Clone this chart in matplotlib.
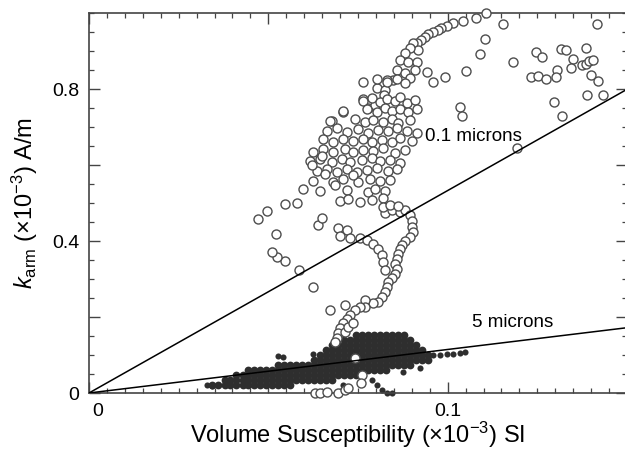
import matplotlib
matplotlib.use('Agg')
import matplotlib.pyplot as plt
import matplotlib.transforms as mtransforms
from matplotlib.ticker import MultipleLocator, FixedLocator, FixedFormatter

plt.rcParams['font.family'] = 'Liberation Sans'
plt.rcParams['mathtext.fontset'] = 'custom'
plt.rcParams['mathtext.rm'] = 'Liberation Sans'
plt.rcParams['mathtext.it'] = 'Liberation Sans:italic'

# reference lines (0.1 and 5 micron grain size), through the origin
line_x = [0.0, 0.15]
line_01_y = [0.0, 0.80]
line_5_y = [0.0, 0.172]

# open circles: upper arm going to the top of the plot
arm_x = [0.1108, 0.1078, 0.1042, 0.1014, 0.0997, 0.0981, 0.0972, 0.0958, 0.0944, 0.0936,
         0.0925, 0.0914, 0.0903, 0.0917, 0.0894, 0.0881, 0.0867, 0.0889, 0.0914, 0.0858,
         0.0881, 0.0908, 0.0942, 0.0894, 0.0847, 0.0958, 0.0992, 0.1050, 0.1089, 0.1103,
         0.0831, 0.0803, 0.0825, 0.0764, 0.0708, 0.0678, 0.1153, 0.0778, 0.0797, 0.0822]
arm_y = [1.000, 0.989, 0.979, 0.974, 0.966, 0.961, 0.955, 0.950, 0.945, 0.937,
         0.929, 0.921, 0.921, 0.903, 0.908, 0.895, 0.876, 0.871, 0.871, 0.850,
         0.842, 0.850, 0.845, 0.829, 0.824, 0.818, 0.832, 0.847, 0.892, 0.932,
         0.824, 0.803, 0.797, 0.774, 0.739, 0.716, 0.971, 0.750, 0.758, 0.784]

# open circles: scattered points on the right
right_x = [0.1181, 0.1417, 0.1247, 0.1264, 0.1317, 0.1331, 0.1386, 0.1350, 0.1306, 0.1303,
           0.1344, 0.1375, 0.1386, 0.1394, 0.1406, 0.1400, 0.1419, 0.1233, 0.1253, 0.1275,
           0.1389, 0.1433, 0.1297, 0.1319, 0.1194, 0.1033, 0.1039]
right_y = [0.871, 0.971, 0.897, 0.884, 0.905, 0.903, 0.908, 0.879, 0.850, 0.832,
           0.855, 0.863, 0.868, 0.874, 0.876, 0.837, 0.821, 0.832, 0.834, 0.826,
           0.784, 0.784, 0.766, 0.729, 0.645, 0.753, 0.729]

# open circles: main cluster
blob_x = [0.0764, 0.0803, 0.0831, 0.0858, 0.0881,
          0.0764, 0.0789, 0.0811, 0.0831, 0.0853, 0.0867, 0.0886, 0.0908,
          0.0708, 0.0775, 0.0803, 0.0825, 0.0844, 0.0867, 0.0889, 0.0914,
          0.0672, 0.0742, 0.0769, 0.0792, 0.0819, 0.0844, 0.0861, 0.0894,
          0.0664, 0.0692, 0.0719, 0.0750, 0.0778, 0.0806, 0.0833, 0.0858, 0.0886, 0.0914,
          0.0653, 0.0681, 0.0708, 0.0736, 0.0764, 0.0789, 0.0817, 0.0844, 0.0867, 0.0900,
          0.0625, 0.0653, 0.0681, 0.0714, 0.0736, 0.0764, 0.0792, 0.0819, 0.0853, 0.0881,
          0.0617, 0.0644, 0.0678, 0.0706, 0.0728, 0.0761, 0.0789, 0.0811, 0.0839, 0.0867,
          0.0636, 0.0664, 0.0692, 0.0719, 0.0747, 0.0775, 0.0803, 0.0833, 0.0858,
          0.0625, 0.0681, 0.0708, 0.0750, 0.0783, 0.0811, 0.0839,
          0.0597, 0.0644, 0.0719, 0.0778, 0.0797, 0.0825,
          0.0700, 0.0722, 0.0756, 0.0789, 0.0819,
          0.0622, 0.0658, 0.0686, 0.0736, 0.0650]
blob_y = [0.820, 0.828, 0.818, 0.826, 0.816,
          0.768, 0.776, 0.766, 0.774, 0.770, 0.779, 0.765, 0.772,
          0.742, 0.748, 0.740, 0.750, 0.743, 0.747, 0.739, 0.748,
          0.716, 0.722, 0.713, 0.720, 0.715, 0.723, 0.712, 0.719,
          0.690, 0.697, 0.688, 0.695, 0.686, 0.694, 0.689, 0.698, 0.691, 0.686,
          0.668, 0.661, 0.670, 0.663, 0.669, 0.660, 0.667, 0.662, 0.671, 0.664,
          0.636, 0.643, 0.635, 0.642, 0.634, 0.641, 0.637, 0.645, 0.633, 0.640,
          0.611, 0.617, 0.609, 0.616, 0.608, 0.614, 0.619, 0.610, 0.615, 0.607,
          0.585, 0.591, 0.583, 0.590, 0.582, 0.588, 0.593, 0.584, 0.589,
          0.559, 0.556, 0.563, 0.557, 0.565, 0.558, 0.562,
          0.537, 0.531, 0.536, 0.530, 0.538, 0.533,
          0.506, 0.511, 0.503, 0.509, 0.513,
          0.600, 0.577, 0.548, 0.575, 0.625]

# open circles: tail running down into the filled cluster
tail_x = [0.0825, 0.0844, 0.0867, 0.0881, 0.0894, 0.0900, 0.0900, 0.0903, 0.0894, 0.0881,
          0.0872, 0.0867, 0.0861, 0.0858, 0.0853, 0.0858, 0.0853, 0.0844, 0.0833, 0.0831,
          0.0825, 0.0817, 0.0806, 0.0819, 0.0839, 0.0861, 0.0639, 0.0650, 0.0694, 0.0719,
          0.0700, 0.0728, 0.0756, 0.0775, 0.0792, 0.0806, 0.0817, 0.0819, 0.0825, 0.0792,
          0.0769, 0.0769, 0.0756, 0.0742, 0.0728, 0.0719, 0.0708, 0.0700, 0.0694, 0.0692,
          0.0686, 0.0714, 0.0722, 0.0736, 0.0714, 0.0672, 0.0742, 0.0761, 0.0758]
tail_y = [0.474, 0.482, 0.476, 0.482, 0.468, 0.453, 0.437, 0.424, 0.411, 0.400,
          0.389, 0.379, 0.366, 0.353, 0.339, 0.326, 0.313, 0.303, 0.292, 0.279,
          0.266, 0.253, 0.239, 0.489, 0.495, 0.492, 0.442, 0.461, 0.434, 0.429,
          0.413, 0.408, 0.408, 0.403, 0.392, 0.379, 0.363, 0.345, 0.324, 0.237,
          0.245, 0.226, 0.226, 0.218, 0.205, 0.195, 0.184, 0.171, 0.158, 0.145,
          0.134, 0.161, 0.174, 0.184, 0.232, 0.218, 0.092, 0.047, 0.026]

# open circles: left strays and points on the x axis
left_x = [0.0625, 0.0586, 0.0547, 0.0525, 0.0511, 0.0522, 0.0472, 0.0497, 0.0547, 0.0581,
          0.0631, 0.0644, 0.0664, 0.0694, 0.0714, 0.0722]
left_y = [0.279, 0.324, 0.347, 0.358, 0.371, 0.418, 0.458, 0.479, 0.497, 0.500,
          0.000, 0.000, 0.003, 0.000, 0.008, 0.013]

# filled dots: dense cluster, one list of x per row
dense_y = [0.021, 0.034, 0.047, 0.061, 0.074, 0.087, 0.100, 0.113, 0.126, 0.139, 0.153]
dense_x = [
    [0.0344, 0.0361, 0.0378, 0.0394, 0.0411, 0.0428, 0.0444, 0.0461, 0.0478, 0.0494,
     0.0511, 0.0528, 0.0544, 0.0561],
    [0.0378, 0.0394, 0.0411, 0.0428, 0.0444, 0.0461, 0.0478, 0.0494, 0.0511, 0.0528,
     0.0544, 0.0561, 0.0578, 0.0594, 0.0611, 0.0628, 0.0644, 0.0661, 0.0678],
    [0.0411, 0.0428, 0.0444, 0.0461, 0.0478, 0.0494, 0.0511, 0.0528, 0.0544, 0.0561,
     0.0578, 0.0594, 0.0611, 0.0628, 0.0644, 0.0661, 0.0678, 0.0694, 0.0711, 0.0728,
     0.0744, 0.0761],
    [0.0444, 0.0461, 0.0478, 0.0494, 0.0511, 0.0528, 0.0544, 0.0561, 0.0578, 0.0594,
     0.0611, 0.0628, 0.0644, 0.0661, 0.0678, 0.0694, 0.0711, 0.0728, 0.0744, 0.0761,
     0.0778, 0.0794, 0.0811, 0.0828],
    [0.0528, 0.0544, 0.0561, 0.0578, 0.0594, 0.0611, 0.0628, 0.0644, 0.0661, 0.0678,
     0.0694, 0.0711, 0.0728, 0.0744, 0.0761, 0.0778, 0.0794, 0.0811, 0.0828, 0.0844,
     0.0861, 0.0878, 0.0894],
    [0.0628, 0.0644, 0.0661, 0.0678, 0.0694, 0.0711, 0.0728, 0.0744, 0.0761, 0.0778,
     0.0794, 0.0811, 0.0828, 0.0844, 0.0861, 0.0878, 0.0894, 0.0911, 0.0928, 0.0944],
    [0.0644, 0.0661, 0.0678, 0.0694, 0.0711, 0.0728, 0.0744, 0.0761, 0.0778, 0.0794,
     0.0811, 0.0828, 0.0844, 0.0861, 0.0878, 0.0894, 0.0911, 0.0928, 0.0944],
    [0.0661, 0.0678, 0.0694, 0.0711, 0.0728, 0.0744, 0.0761, 0.0778, 0.0794, 0.0811,
     0.0828, 0.0844, 0.0861, 0.0878, 0.0894, 0.0911, 0.0928],
    [0.0678, 0.0694, 0.0711, 0.0728, 0.0744, 0.0761, 0.0778, 0.0794, 0.0811, 0.0828,
     0.0844, 0.0861, 0.0878, 0.0894, 0.0911],
    [0.0711, 0.0728, 0.0744, 0.0761, 0.0778, 0.0794, 0.0811, 0.0828, 0.0844, 0.0861,
     0.0878, 0.0894],
    [0.0744, 0.0761, 0.0778, 0.0794, 0.0811, 0.0828, 0.0844, 0.0861, 0.0878],
]

# filled dots: strays around the cluster
stray_x = [0.0528, 0.0542, 0.0625, 0.0958, 0.0978, 0.0997, 0.1014, 0.1033, 0.1047, 0.0789,
           0.0803, 0.0817, 0.0831, 0.0844, 0.0875, 0.0922, 0.0708, 0.0344, 0.0328]
stray_y = [0.097, 0.095, 0.103, 0.100, 0.100, 0.103, 0.103, 0.105, 0.108, 0.034,
           0.021, 0.008, 0.000, 0.000, 0.055, 0.066, 0.021, 0.018, 0.021]

fig = plt.figure(figsize=(6.25, 4.51), dpi=100)
ax = fig.add_axes([89 / 625, 58 / 451, 538 / 625, 379.6 / 451])

dense_style = dict(ls='none', marker='o', ms=5.6, color='#2e2e2e', mec='none', zorder=2)
for y, xs in zip(dense_y, dense_x):
    ax.plot(xs, [y] * len(xs), **dense_style)
ax.plot(stray_x, stray_y, ls='none', marker='o', ms=4.4, color='#2e2e2e', mec='none',
        zorder=2, clip_on=False)

circ_style = dict(ls='none', marker='o', ms=6.5, mfc='white', mec='#4d4d4d', mew=1.0,
                  zorder=3, clip_on=False)
for xs, ys in [(arm_x, arm_y), (right_x, right_y), (blob_x, blob_y),
               (tail_x, tail_y), (left_x, left_y)]:
    ax.plot(xs, ys, **circ_style)

ax.plot(line_x, line_01_y, color='black', lw=1.1, zorder=4)
ax.plot(line_x, line_5_y, color='black', lw=1.1, zorder=4)

ax.text(0.0936, 0.664, '0.1 microns', fontsize=13.5, ha='left', va='baseline')
ax.text(0.1067, 0.174, '5 microns', fontsize=13.5, ha='left', va='baseline')

ax.set_xlim(0, 0.15)
ax.set_ylim(0, 1.0)
ax.xaxis.set_major_locator(FixedLocator([0, 0.05, 0.1]))
ax.xaxis.set_major_formatter(FixedFormatter(['0', '', '0.1']))
ax.xaxis.set_minor_locator(MultipleLocator(0.005))
ax.yaxis.set_major_locator(FixedLocator([0, 0.2, 0.4, 0.6, 0.8]))
ax.yaxis.set_major_formatter(FixedFormatter(['0', '', '0.4', '', '0.8']))
ax.yaxis.set_minor_locator(MultipleLocator(0.05))
ax.tick_params(which='both', direction='in', top=True, right=True, color='#444444')
ax.tick_params(which='major', length=8, width=1.0, labelsize=14, pad=7)
ax.tick_params(which='minor', length=3.8, width=0.9)
for s in ax.spines.values():
    s.set_color('#444444')
    s.set_linewidth(1.2)

ax.set_xlabel('Volume Susceptibility ($\\times$10$^{-3}$) SI', fontsize=17)
ax.xaxis.set_label_coords(0.5, -0.07)
ax.set_ylabel('$k_{\\rm arm}$ ($\\times$10$^{-3}$) A/m', fontsize=17)
ax.yaxis.set_label_coords(-0.091, 0.5)

# the "0" under the x axis sits a little right of its tick
zero = ax.xaxis.get_major_ticks()[0].label1
zero.set_transform(zero.get_transform() +
                   mtransforms.ScaledTranslation(9 / 100, 0, fig.dpi_scale_trans))

fig.savefig('out.png', dpi=100)
